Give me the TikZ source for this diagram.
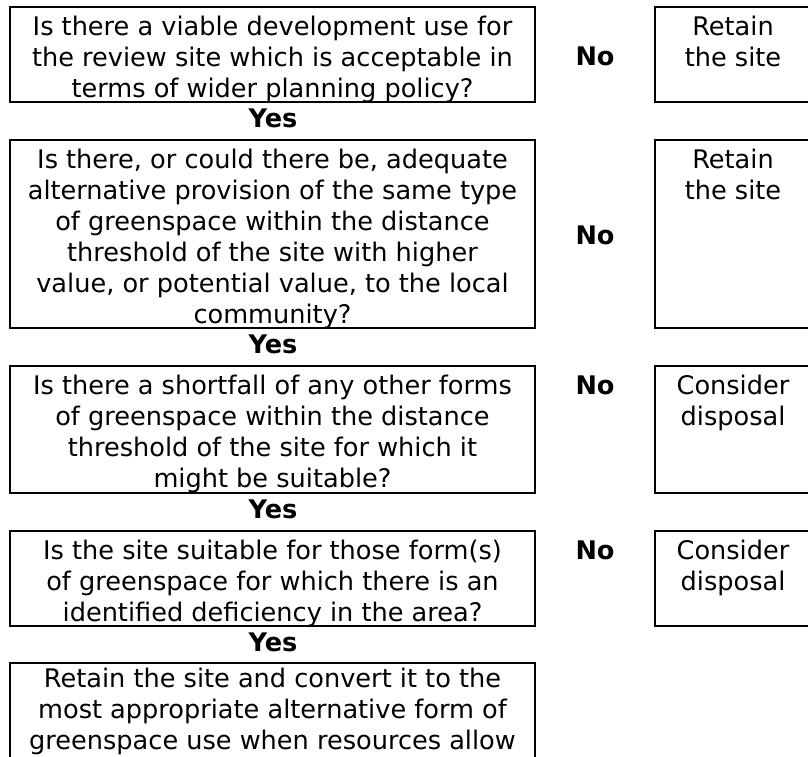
\documentclass[tikz,border=0pt]{standalone}
\usepackage{fontspec}
\setmainfont{DejaVu Sans}
\begin{document}
\begin{tikzpicture}[x=1pt,y=-1pt,
  box/.style={draw=black,line width=1.8pt},
  qtext/.style={anchor=base,align=center,inner sep=0pt,font=\fontsize{25.6}{31}\selectfont},
  lbl/.style={anchor=base,inner sep=0pt,font=\fontsize{25.6}{31}\selectfont\bfseries}]
\useasboundingbox (0,0) rectangle (808,756);
\clip (0,0) rectangle (808,756);
% left question boxes
\path[box] (10,7) rectangle (535,102);
\path[box] (10,140) rectangle (535,328);
\path[box] (10,366) rectangle (535,493);
\path[box] (10,531) rectangle (535,626);
\path[box] (10,663) rectangle (535,759);
% right outcome boxes
\path[box] (655,7) rectangle (812,102);
\path[box] (655,140) rectangle (812,328);
\path[box] (655,366) rectangle (812,493);
\path[box] (655,531) rectangle (812,626);
% question texts (anchored at the baseline of the last line)
\node[qtext] (q1) at (272.5,97) {Is there a viable development use for\\the review site which is acceptable in\\terms of wider planning policy?};
\node[qtext] (q2) at (272.5,323) {Is there, or could there be, adequate\\alternative provision of the same type\\of greenspace within the distance\\threshold of the site with higher\\value, or potential value, to the local\\community?};
\node[qtext] (q3) at (272.5,487) {Is there a shortfall of any other forms\\of greenspace within the distance\\threshold of the site for which it\\might be suitable?};
\node[qtext] (q4) at (272.5,621) {Is the site suitable for those form(s)\\of greenspace for which there is an\\identified deficiency in the area?};
\node[qtext] (q5) at (272.5,749) {Retain the site and convert it to the\\most appropriate alternative form of\\greenspace use when resources allow};
% outcome texts
\node[qtext] (r1) at (733,66) {Retain\\the site};
\node[qtext] (r2) at (733,199) {Retain\\the site};
\node[qtext] (r3) at (733,425) {Consider\\disposal};
\node[qtext] (r4) at (733,590) {Consider\\disposal};
% Yes labels
\node[lbl] (y1) at (273,127) {Yes};
\node[lbl] (y2) at (273,353) {Yes};
\node[lbl] (y3) at (273,518) {Yes};
\node[lbl] (y4) at (273,651) {Yes};
% No labels
\node[lbl] (n1) at (595,65) {No};
\node[lbl] (n2) at (595,244) {No};
\node[lbl] (n3) at (595,394) {No};
\node[lbl] (n4) at (595,559) {No};
\end{tikzpicture}
\end{document}
